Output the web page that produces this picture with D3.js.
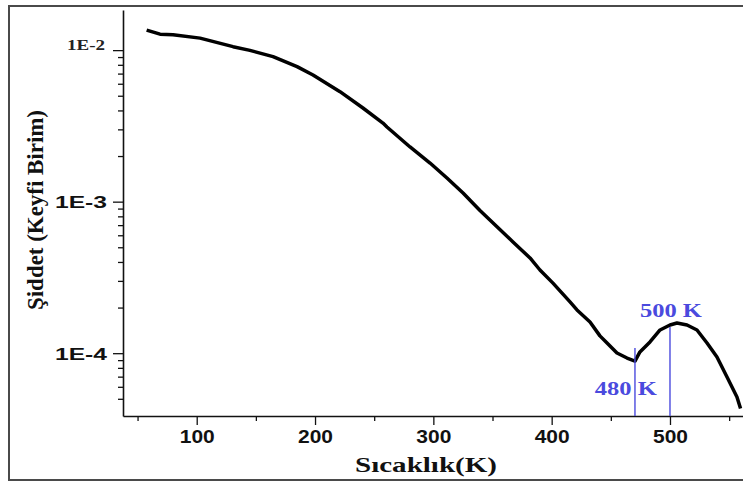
<!DOCTYPE html>
<html>
<head>
<meta charset="utf-8">
<script src="https://cdn.jsdelivr.net/npm/d3@7"></script>
<style>
html,body{margin:0;padding:0;background:#fff;}
svg{display:block;}
</style>
</head>
<body>
<svg id="chart" width="743" height="483"></svg>
<script>
// ---- data ----
const temps = [59.1, 69.0, 80.0, 102.8, 130.7, 145.0, 164.5, 184.8, 198.3, 221.1, 240.5, 257.4, 260.8, 280.3, 297.2, 311.5, 325.1, 339.4, 353.8, 367.3, 381.7, 390.1, 401.1, 415.5, 421.4, 432.4, 440.8, 446.8, 455.2, 463.7, 470.4, 474.6, 483.1, 491.6, 500.0, 505.9, 514.4, 522.8, 531.3, 539.7, 548.2, 556.6, 559.2];
const intensity = [0.01346, 0.01274, 0.01265, 0.0120, 0.01054, 0.00996, 0.00906, 0.00778, 0.00686, 0.00532, 0.00415, 0.00330, 0.00311, 0.002296, 0.001799, 0.001433, 0.001141, 0.000875, 0.000684, 0.000542, 0.000425, 0.000354, 0.000290, 0.000218, 0.000193, 0.0001607, 0.0001301, 0.0001167, 0.0001003, 0.0000929, 0.0000887, 0.0001019, 0.0001186, 0.0001423, 0.0001535, 0.0001582, 0.0001535, 0.0001423, 0.0001167, 0.0000944, 0.0000697, 0.0000514, 0.0000442];

const xMajorTicks = [100, 200, 300, 400, 500];
const xMinorTicks = [50, 150, 250, 350, 450, 550];
const yMajorTicks = [1e-4, 1e-3, 1e-2];
const yTickLabels = ["1E-4", "1E-3", "1E-2"];
const yMinorTicks = [5e-5, 6e-5, 7e-5, 8e-5, 9e-5, 2e-4, 3e-4, 4e-4, 5e-4, 6e-4, 7e-4, 8e-4, 9e-4, 2e-3, 3e-3, 4e-3, 5e-3, 6e-3, 7e-3, 8e-3, 9e-3];

const markerTemps = [470.4, 500];
const markerTops = [1.08e-4, 1.49e-4];
const markerLabels = ["480 K", "500 K"];
const markerLabelT = [462.7, 500.8];
const markerLabelY = [5.3e-5, 1.73e-4];

const xTitle = "Sıcaklık(K)";
const yTitle = "Şiddet (Keyfi Birim)";

// ---- drawing ----
const svg = d3.select("#chart");
const pLeft = 123, pRight = 745, pTop = 10, pBottom = 416;
const x = d3.scaleLinear().domain([37.7, 563.4]).range([pLeft, pRight]);
const y = d3.scaleLog().domain([3.85e-5, 0.0184]).range([pBottom, pTop]);

const SANS = "'Liberation Sans', Arial, sans-serif";
const SERIF = "'Liberation Serif', 'Times New Roman', serif";
const BLUE = "#4a4ade";

function stretch(sel, w) {
  sel.attr("textLength", w).attr("lengthAdjust", "spacingAndGlyphs");
}

// outer frame
svg.append("path")
  .attr("d", `M745,6 H9 V480 H745`)
  .attr("fill", "none").attr("stroke", "#4a4a4a").attr("stroke-width", 2);

// minor ticks
svg.append("g").attr("transform", `translate(0,${pBottom})`)
  .call(d3.axisBottom(x).tickValues(xMinorTicks).tickSize(5).tickFormat(""))
  .call(g => g.select(".domain").remove())
  .selectAll("line").attr("stroke", "#111").attr("stroke-width", 1.3);
svg.append("g").attr("transform", `translate(${pLeft},0)`)
  .call(d3.axisLeft(y).tickValues(yMinorTicks).tickSize(5).tickFormat(""))
  .call(g => g.select(".domain").remove())
  .selectAll("line").attr("stroke", "#111").attr("stroke-width", 1.3);

// major x axis
const gx = svg.append("g").attr("transform", `translate(0,${pBottom})`)
  .call(d3.axisBottom(x).tickValues(xMajorTicks).tickSize(9).tickPadding(5).tickSizeOuter(0).tickFormat(d3.format("d")));
gx.select(".domain").attr("stroke", "#111").attr("stroke-width", 1.6);
gx.selectAll("line").attr("stroke", "#111").attr("stroke-width", 1.3);
gx.selectAll("text").attr("font-family", SANS).attr("font-weight", "bold")
  .attr("font-size", 19).attr("fill", "#111").attr("dy", "0.7em")
  .each(function() { stretch(d3.select(this), 35); });

// major y axis
const gy = svg.append("g").attr("transform", `translate(${pLeft},0)`)
  .call(d3.axisLeft(y).tickValues(yMajorTicks).tickSize(10).tickPadding(6).tickSizeOuter(0)
    .tickFormat((d, i) => yTickLabels[i]));
gy.select(".domain").attr("stroke", "#111").attr("stroke-width", 1.6);
gy.selectAll("line").attr("stroke", "#111").attr("stroke-width", 1.3);
gy.selectAll("text").each(function(d, i) {
  const t = d3.select(this);
  if (i === 2) {
    t.attr("font-family", SERIF).attr("font-weight", "bold").attr("font-size", 14)
     .attr("fill", "#222").attr("x", -18).attr("dy", "-0.05em");
    stretch(t, 38);
  } else {
    t.attr("font-family", SANS).attr("font-weight", "bold").attr("font-size", 17)
     .attr("fill", "#111").attr("dy", "0.35em");
    stretch(t, 52);
  }
});

// data curve
const pts = temps.map((t, i) => [t, intensity[i]]);
svg.append("path").datum(pts)
  .attr("fill", "none").attr("stroke", "#000").attr("stroke-width", 3.5)
  .attr("stroke-linejoin", "round").attr("stroke-linecap", "square")
  .attr("d", d3.line().x(d => x(d[0])).y(d => y(d[1])));

// markers
svg.selectAll(".mk").data(markerTemps).join("line")
  .attr("x1", d => x(d)).attr("x2", d => x(d))
  .attr("y1", (d, i) => y(markerTops[i])).attr("y2", pBottom)
  .attr("stroke", BLUE).attr("stroke-width", 1.4);
svg.selectAll(".ml").data(markerLabels).join("text")
  .attr("x", (d, i) => x(markerLabelT[i])).attr("y", (d, i) => y(markerLabelY[i]))
  .attr("text-anchor", "middle").attr("font-family", SERIF).attr("font-weight", "bold")
  .attr("font-size", 18).attr("fill", BLUE).text(d => d)
  .each(function() { stretch(d3.select(this), 62); });

// titles
svg.append("text").attr("x", 426).attr("y", 472).attr("text-anchor", "middle")
  .attr("font-family", SERIF).attr("font-weight", "bold").attr("font-size", 22)
  .attr("fill", "#111").text(xTitle)
  .call(s => stretch(s, 142));
svg.append("text").attr("transform", "translate(43,210) rotate(-90)").attr("text-anchor", "middle")
  .attr("font-family", SERIF).attr("font-weight", "bold").attr("font-size", 23)
  .attr("fill", "#111").text(yTitle)
  .call(s => stretch(s, 200));
</script>
</body>
</html>
